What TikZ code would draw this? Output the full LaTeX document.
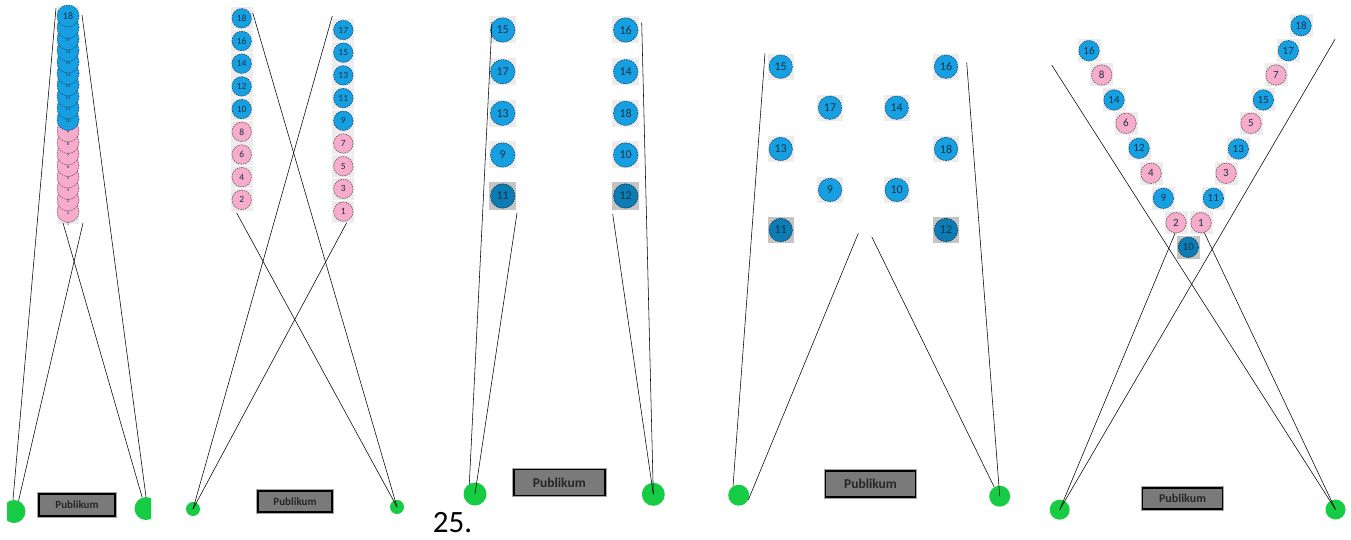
\documentclass[tikz,border=0pt]{standalone}
\usepackage{fontspec}
\setsansfont{Carlito}
\usepackage{tikz}
\usetikzlibrary{positioning}
\definecolor{seatblue}{RGB}{22,160,226}
\definecolor{blueedge}{RGB}{20,80,120}
\definecolor{seatpink}{RGB}{246,172,202}
\definecolor{pinkedge}{RGB}{120,90,105}
\definecolor{seatdark}{RGB}{12,124,180}
\definecolor{darkedge}{RGB}{10,60,95}
\definecolor{seatink}{RGB}{25,50,70}
\definecolor{seatgreen}{RGB}{22,204,68}
\definecolor{padgray}{RGB}{236,236,236}
\definecolor{paddark}{RGB}{196,196,196}
\definecolor{boxgray}{RGB}{122,122,122}
\definecolor{pubink}{RGB}{38,38,38}
\newcommand{\numfont}[1]{\sffamily\fontsize{#1}{#1}\selectfont}

\begin{document}
\begin{tikzpicture}[x=1pt, y=-1pt,
        conn/.style={line width=0.55pt, black},
        dot/.style={circle, inner sep=0pt, fill=seatgreen, minimum size=#1},
        bcol/.style={fill=seatblue, draw=blueedge},
        pcol/.style={fill=seatpink, draw=pinkedge},
        dcol/.style={fill=seatdark, draw=darkedge},
        seat/.style n args={3}{rectangle, inner sep=0pt, minimum size=#1, fill=#3, text=seatink,
            path picture={\draw[#2, line width=0.7pt, dash pattern=on 1.5pt off 1pt]
                (path picture bounding box.center) circle [radius=#1/2-1.3];}},
        half/.style={circle, inner sep=0pt, minimum size=22, line width=0.6pt,
            dash pattern=on 1.5pt off 1pt, text=seatink, label distance=-9.5pt},
        tinynum/.style={font=\numfont{4.5}, inner sep=0pt, text=seatink},
        pub/.style={draw=black, line width=1.6pt, fill=boxgray, inner sep=0pt, text=pubink,
            preaction={draw=black!35, line width=3.6pt}}]
        \useasboundingbox (0,0) rectangle (1351,540);

        % panel 1
        \fill[padgray] (57,6) rectangle (79,224);
        \foreach \k in {17,16,...,10}
            {\pgfmathtruncatemacro\n{18-\k}
             \node[half, pcol, label={[tinynum]below:\n}] (s1x\n) at (68,16+11.5*\k) {};}
        \foreach \k in {9,8,...,1}
            {\pgfmathtruncatemacro\n{18-\k}
             \node[half, bcol, label={[tinynum]below:\n}] (s1x\n) at (68,16+11.5*\k) {};}
        \node[half, bcol, font=\numfont{10}] (s1x18) at (68,16) {18};
        \begin{scope}
            \clip (7,0) rectangle (151,540);
            \node[dot=23] (g1L) at (14,511.5) {};
            \node[dot=23] (g1R) at (146,508.5) {};
        \end{scope}
        \coordinate (t1a) at (56,8);
        \coordinate (t1b) at (83,223);
        \coordinate (t1c) at (82,15);
        \coordinate (t1d) at (63,223);
        \draw[conn] (g1L.95) -- (t1a);
        \draw[conn] (g1L.67) -- (t1b);
        \draw[conn] (g1R.90) -- (t1c);
        \draw[conn] (g1R.109) -- (t1d);
        \node[pub, minimum width=76, minimum height=22, font=\numfont{11}\bfseries] (pub1) at (77,505) {Publikum};

        % panel 2
        \begin{scope}[font=\numfont{9.5}]
            \foreach \n in {18,16,...,10}
                \node[seat={22}{bcol}{padgray}] (s2L\n) at (241.7,18.3+11.35*18-11.35*\n) {\n};
            \foreach \n in {8,6,...,2}
                \node[seat={22}{pcol}{padgray}] (s2L\n) at (241.7,18.3+11.35*18-11.35*\n) {\n};
            \foreach \n in {17,15,...,9}
                \node[seat={22}{bcol}{padgray}] (s2R\n) at (343.3,30+11.35*17-11.35*\n) {\n};
            \foreach \n in {7,5,...,1}
                \node[seat={22}{pcol}{padgray}] (s2R\n) at (343.3,30+11.35*17-11.35*\n) {\n};
        \end{scope}
        \node[dot=14] (g2L) at (193,509) {};
        \node[dot=14] (g2R) at (397,507) {};
        \coordinate (t2a) at (332.3,16);
        \coordinate (t2b) at (346.7,222.7);
        \coordinate (t2c) at (252.7,12.7);
        \coordinate (t2d) at (236.7,213);
        \draw[conn] (g2L.center) -- (t2a);
        \draw[conn] (g2L.center) -- (t2b);
        \draw[conn] (g2R.center) -- (t2c);
        \draw[conn] (g2R.center) -- (t2d);
        \node[pub, minimum width=74, minimum height=21, font=\numfont{11}\bfseries] (pub2) at (295,501.5) {Publikum};
        \node[font=\numfont{31}, inner sep=0pt, text=black] (num) at (452.5,522.5) {25.};

        % panel 3
        \begin{scope}[font=\numfont{12}]
            \foreach \n/\y in {15/30,17/71.7,13/113.3,9/155}
                \node[seat={27}{bcol}{padgray}] (s3L\n) at (502.7,\y) {\n};
            \foreach \n/\y in {16/30,14/71.7,18/113.3,10/155}
                \node[seat={27}{bcol}{padgray}] (s3R\n) at (625.7,\y) {\n};
            \node[seat={27}{dcol}{paddark}] (s3L11) at (502.7,196) {11};
            \node[seat={27}{dcol}{paddark}] (s3R12) at (625.7,196) {12};
        \end{scope}
        \node[dot=23] (g3L) at (475,494) {};
        \node[dot=23] (g3R) at (653.3,494.3) {};
        \coordinate (t3a) at (492,22);
        \coordinate (t3b) at (517,213);
        \coordinate (t3c) at (641.7,22.7);
        \coordinate (t3d) at (612.7,214);
        \draw[conn] (g3L.119) -- (t3a);
        \draw[conn] (g3L.center) -- (t3b);
        \draw[conn] (g3R.center) -- (t3c);
        \draw[conn] (g3R.center) -- (t3d);
        \node[pub, minimum width=91, minimum height=26, font=\numfont{13.5}\bfseries] (pub3) at (559.3,482.5) {Publikum};

        % panel 4
        \begin{scope}[font=\numfont{12}]
            \foreach \n/\x/\y in {15/780.7/66.7,16/946/66.7,17/830/107.7,14/896.7/107.7,
                                  13/780.7/149,18/946/149,9/830/190,10/896.7/190}
                \node[seat={26}{bcol}{padgray}] (s4x\n) at (\x,\y) {\n};
            \node[seat={26}{dcol}{paddark}] (s4x11) at (780.7,230) {11};
            \node[seat={26}{dcol}{paddark}] (s4x12) at (946,230) {12};
        \end{scope}
        \node[dot=21] (g4L) at (738.7,495.2) {};
        \node[dot=21] (g4R) at (999.7,496.2) {};
        \coordinate (t4a) at (765,53.3);
        \coordinate (t4b) at (858.3,233.3);
        \coordinate (t4c) at (966.7,62.7);
        \coordinate (t4d) at (871.7,236.7);
        \draw[conn] (g4L.122) -- (t4a);
        \draw[conn] (g4L.-25) -- (t4b);
        \draw[conn] (g4R.center) -- (t4c);
        \draw[conn] (g4R.121) -- (t4d);
        \node[pub, minimum width=90, minimum height=26, font=\numfont{13.5}\bfseries] (pub4) at (870.5,484) {Publikum};

        % panel 5
        \begin{scope}[font=\numfont{11}]
            \foreach \n/\x/\y in {16/1089/50.7,14/1114/100,12/1139/148.3,9/1163.3/198.3,
                                  11/1213.3/198.3,13/1238.3/149,15/1263.3/100,17/1288.3/50.7,18/1301/25.7}
                \node[seat={23}{bcol}{padgray}] (s5x\n) at (\x,\y) {\n};
            \foreach \n/\x/\y in {8/1101.7/75,6/1126/123.3,4/1151/173.3,2/1176/222.7,
                                  1/1201/222.7,3/1226/173.3,5/1251/123.3,7/1276/75}
                \node[seat={23}{pcol}{padgray}] (s5x\n) at (\x,\y) {\n};
            \node[seat={23}{dcol}{paddark}] (s5x10) at (1188.3,247.3) {10};
        \end{scope}
        \node[dot=20] (g5L) at (1059.7,509.7) {};
        \node[dot=20] (g5R) at (1335.5,509.5) {};
        \coordinate (t5a) at (1051.7,65);
        \coordinate (t5b) at (1335,39.3);
        \coordinate (t5c) at (1175,233.3);
        \coordinate (t5d) at (1204.3,232.7);
        \draw[conn] (g5R.center) -- (t5a);
        \draw[conn] (g5L.center) -- (t5b);
        \draw[conn] (g5L.center) -- (t5c);
        \draw[conn] (g5R.center) -- (t5d);
        \node[pub, minimum width=80, minimum height=21, font=\numfont{12}\bfseries] (pub5) at (1182.5,498.3) {Publikum};
    \end{tikzpicture}
\end{document}
